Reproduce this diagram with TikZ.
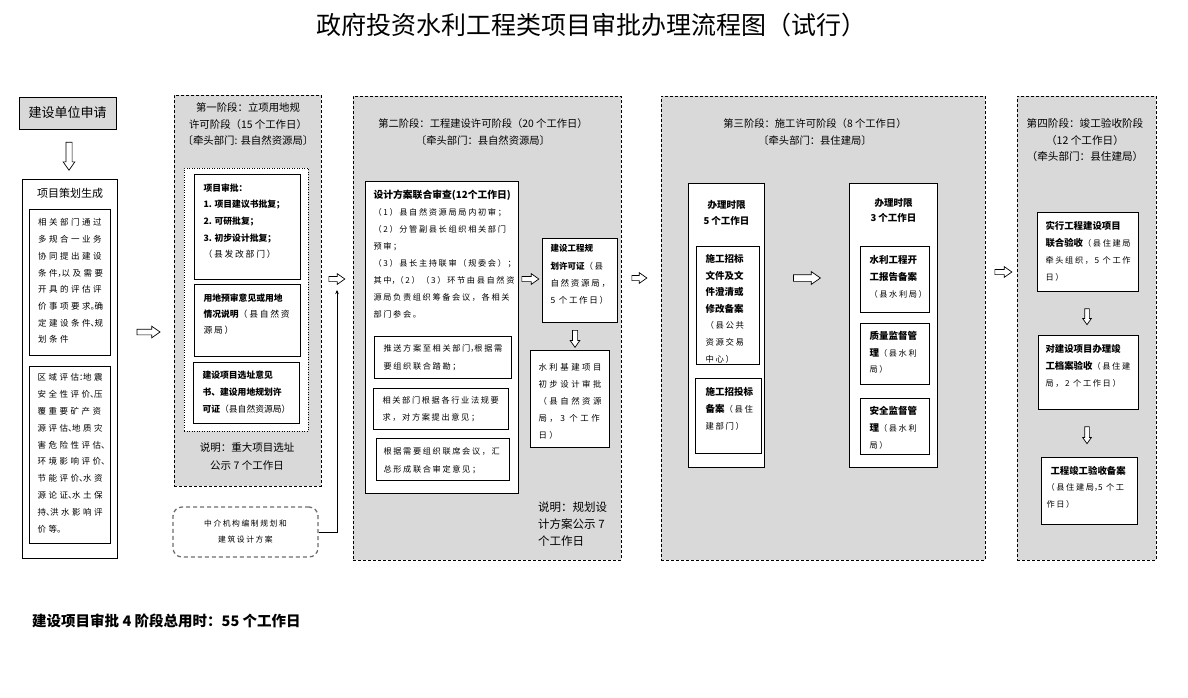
\documentclass[tikz,border=0pt]{standalone}
\usepackage{fontspec}
\setmainfont{Noto Sans CJK SC}
\newfontfamily\spf[LetterSpace=20]{Noto Sans CJK SC}
\newfontfamily\spw[LetterSpace=30]{Noto Sans CJK SC}
\usetikzlibrary{shapes.arrows,arrows.meta}
\definecolor{grayf}{RGB}{217,217,217}
\definecolor{dashg}{RGB}{110,110,110}
\newcommand\fz[2]{\fontsize{#1pt}{#2pt}\selectfont}
\newcommand\cdou{\makebox[4pt][l]{，}}
\newcommand\cdun{\makebox[4pt][l]{、}}
\newcommand\cju{\makebox[4pt][l]{。}}
\newcommand\cmh{\makebox[4pt][l]{：}}
% name, x, y, w, h, style, padleft, padtop, content
\newcommand\BX[9]{%
  \node[#6,anchor=north west,inner sep=0pt] (#1) at (#2,#3)
   {\parbox[c][#5pt][t]{#4pt}{\parindent=0pt\leftskip=#7pt\relax\rightskip=0pt plus 1fil\relax\vspace*{#8pt}#9\par}};}
\begin{document}
\begin{tikzpicture}[x=1pt,y=-1pt,
  sbox/.style={draw=black, fill=white, line width=1pt},
  gbox/.style={draw=black, fill=grayf, line width=1pt},
  stg/.style={draw=black, fill=grayf, line width=0.9pt, dash pattern=on 3pt off 2pt},
  dotb/.style={draw=black, fill=white, line width=0.9pt, dash pattern=on 1pt off 1.5pt},
  zjb/.style={draw=dashg, fill=white, line width=1.3pt, dash pattern=on 4pt off 3pt, rounded corners=9pt},
  barr/.style n args={3}{single arrow, draw=black, fill=white, line width=0.7pt, inner xsep=0pt, inner ysep=#2/2, single arrow head extend=(#3-#2)/2, minimum height=#1, single arrow tip angle=70, anchor=center},
  darr/.style n args={3}{single arrow, draw=black, fill=white, line width=0.7pt, inner ysep=0pt, inner xsep=#2/2, single arrow head extend=(#3-#2)/2, minimum height=#1, single arrow tip angle=70, anchor=center, shape border rotate=270},
  conn/.style={draw=black, line width=0.6pt, -{Stealth[length=4pt,width=3.5pt]}},
  ttl/.style={align=center, inner sep=0pt},
]
\fill[white] (0,0) rectangle (1188,697);
\useasboundingbox (0,0) rectangle (1188,697);

\node[font=\fz{25}{30}] (title) at (591,25) {政府投资水利工程类项目审批办理流程图（试行）};

% ---------- left column ----------
\node[gbox, minimum width=97pt, minimum height=32pt, inner sep=0pt, font=\fz{13}{15}] (req) at (67.5,113) {建设单位申请};
\node[darr={28pt}{5.5pt}{11pt}] (a0) at (69,154) {};
\BX{plan}{22}{179}{95}{379}{sbox}{0}{9.2}{\centering\fz{11}{13}项目策划生成}
\BX{plana}{29}{209}{81}{146}{sbox}{8.5}{9.3}{\spw\fz{8.5}{16.7}相关部门通过\\多规合一业务\\协同提出建设\\条件\cdou 以及需要\\开具的评估评\\价事项要求\cju 确\\定建设条件\cdun 规\\划条件}
\BX{planb}{29}{366}{81}{177}{sbox}{8}{7.3}{\spw\fz{8.5}{16.8}区域评估\cmh 地震\\安全性评价\cdun 压\\覆重要矿产资\\源评估\cdun 地质灾\\害危险性评估\cdun\\环境影响评价\cdun\\节能评价\cdun 水资\\源论证\cdun 水土保\\持\cdun 洪水影响评\\价等\cju}
\node[barr={23pt}{5pt}{11pt}] (a1) at (146.5,332) {};

% ---------- stage 1 ----------
\node[stg, anchor=north west, minimum width=147pt, minimum height=391pt, inner sep=0pt] (st1) at (174,95) {};
\node[ttl, font=\fz{10.4}{16.5}] (t1) at (248,124.5) {第一阶段：立项用地规\\许可阶段（15 个工作日）\\〔牵头部门: 县自然资源局〕};
\node[dotb, anchor=north west, minimum width=124pt, minimum height=263pt, inner sep=0pt] (st1in) at (184,168) {};
\BX{sa}{194}{174}{106}{105}{sbox}{9}{9}{\fz{8.8}{16.7}\bfseries 项目审批：\\1. 项目建议书批复；\\2. 可研批复；\\3. 初步设计批复；\\\mdseries\spf（县发改部门）}
\BX{sb}{194}{284}{106}{72}{sbox}{9}{9.1}{\fz{8.8}{16}\bfseries 用地预审意见或用地\\情况说明\mdseries\spf（县自然资\\源局）}
\BX{sc}{193}{362}{106}{61}{sbox}{9}{8.1}{\fz{8.8}{17}\bfseries 建设项目选址意见\\书、建设用地规划许\\可证\mdseries（县自然资源局）}
\node[ttl, font=\fz{10.5}{18}] (n1) at (247,456) {说明：重大项目选址\\公示 7 个工作日};
\node[zjb, minimum width=145pt, minimum height=50pt, inner sep=0pt, align=center, font=\spf\fz{7.8}{16}] (zj) at (245.5,532) {中介机构编制规划和\\建筑设计方案};
\node[barr={16pt}{4.5pt}{10pt}] (a12) at (335,279) {};
\coordinate (zjtip) at (337,290);
\draw[conn] (zj.east) -| (zjtip);

% ---------- stage 2 ----------
\node[stg, anchor=north west, minimum width=268pt, minimum height=464pt, inner sep=0pt] (st2) at (353,96) {};
\node[ttl, font=\fz{10.3}{17}] (t2) at (483,132.5) {第二阶段：工程建设许可阶段（20 个工作日）\\〔牵头部门：县自然资源局〕};
\BX{sm}{365}{181}{153}{312}{sbox}{8}{8.7}{{\fz{9.8}{18}\bfseries 设计方案联合审查(12个工作日)\par}\spf\fz{8.2}{17}（1）县自然资源局局内初审；\\（2）分管副县长组织相关部门\\预审；\\（3）县长主持联审（规委会）；\\其中\cdou（2）（3）环节由县自然资\\源局负责组织筹备会议，各相关\\部门参会。}
\BX{sm1}{374}{336}{137}{42}{sbox}{9}{8.5}{\spf\fz{8.2}{18}推送方案至相关部门\cdou 根据需\\要组织联合踏勘；}
\BX{sm2}{373}{388}{135}{41}{sbox}{9}{8.4}{\spf\fz{8.2}{17}相关部门根据各行业法规要\\求，对方案提出意见；}
\BX{sm3}{376}{438}{133}{42}{sbox}{7}{9.4}{\spf\fz{8.2}{18}根据需要组织联席会议，汇\\总形成联合审定意见；}
\node[barr={17pt}{4.5pt}{10pt}] (a3) at (528.5,279) {};
\BX{sp}{542}{238}{75}{84}{sbox}{8}{6}{\fz{8.5}{17.3}\bfseries 建设工程规\\划许可证\mdseries\spf（县\\自然资源局，\\5 个工作日）}
\node[darr={17pt}{4.5pt}{9pt}] (a4) at (575,337) {};
\BX{sd}{530}{350}{79}{97}{sbox}{8}{13.4}{\spw\fz{8.4}{16.8}水利基建项目\\初步设计审批\\（县自然资源\\局，3 个工作\\日）}
\node[anchor=north west, inner sep=0pt, align=left, font=\fz{11.5}{17}] (n2) at (538,502) {说明：规划设\\计方案公示 7\\个工作日};
\node[barr={15pt}{4.5pt}{10pt}] (a23) at (637.5,278) {};

% ---------- stage 3 ----------
\node[stg, anchor=north west, minimum width=324pt, minimum height=464pt, inner sep=0pt] (st3) at (661,96) {};
\node[ttl, font=\fz{10.3}{17}] (t3) at (815,132.5) {第三阶段：施工许可阶段（8 个工作日）\\〔牵头部门：县住建局〕};
\BX{sL}{688}{183}{76}{284}{sbox}{0}{16.8}{\centering\fz{9.5}{16.5}\bfseries 办理时限\\5 个工作日}
\BX{sLa}{696}{246}{63}{118}{sbox}{9}{7.8}{\fz{9.5}{16.6}\bfseries 施工招标\\文件及文\\件澄清或\\修改备案\\\mdseries\spf\fz{8.4}{16.6}（县公共\\资源交易\\中心）}
\BX{sLb}{695}{378}{66}{75}{sbox}{10}{8.8}{\fz{9.5}{17}\bfseries 施工招投标\\备案\mdseries\spf\fz{8.4}{17}（县住\\建部门）}
\node[barr={27pt}{6pt}{12pt}] (a5) at (804.5,278) {};
\BX{sR}{849}{183}{88}{284}{sbox}{0}{14.8}{\centering\fz{9.5}{15.5}\bfseries 办理时限\\3 个工作日}
\BX{sRa}{860}{246}{69}{66}{sbox}{9}{8.8}{\fz{9.5}{17}\bfseries 水利工程开\\工报告备案\\\mdseries\spf\fz{8.2}{17}（县水利局）}
\BX{sRb}{860}{323}{69}{61}{sbox}{9}{7.8}{\fz{9.5}{16.5}\bfseries 质量监督管\\理\mdseries\spf\fz{8.2}{16.5}（县水利\\局）}
\BX{sRc}{860}{398}{69}{56}{sbox}{9}{7.8}{\fz{9.5}{17}\bfseries 安全监督管\\理\mdseries\spf\fz{8.2}{17}（县水利\\局）}
\node[barr={17pt}{4.5pt}{10pt}] (a34) at (1001.5,272) {};

% ---------- stage 4 ----------
\node[stg, anchor=north west, minimum width=139pt, minimum height=464pt, inner sep=0pt] (st4) at (1017,96) {};
\node[ttl, font=\fz{10.6}{16.5}] (t4) at (1085,140.5) {第四阶段：竣工验收阶段\\（12 个工作日）\\（牵头部门：县住建局）};
\BX{sfa}{1037}{212}{101}{79}{sbox}{8}{8.8}{\fz{9.4}{17}\bfseries 实行工程建设项目\\联合验收\mdseries\spf\fz{8.2}{17}（县住建局\\牵头组织，5 个工作\\日）}
\node[darr={16pt}{4pt}{8pt}] (a7) at (1087,315) {};
\BX{sfb}{1038}{335}{100}{74}{sbox}{7}{8.8}{\fz{9.4}{17}\bfseries 对建设项目办理竣\\工档案验收\mdseries\spf\fz{8.2}{17}（县住建\\局，2 个工作日）}
\node[darr={17pt}{4pt}{8pt}] (a8) at (1087,433.5) {};
\BX{sfc}{1041}{457}{96}{67}{sbox}{5}{8.8}{\fz{9.4}{16.5}\bfseries\hspace*{4pt}工程竣工验收备案\\\mdseries\spf\fz{8.2}{16.5}（县住建局\cdou 5 个工\\作日）}

% ---------- footer ----------
\node[anchor=west, inner sep=0pt, font=\fz{14.5}{16}\bfseries] (total) at (32,621) {建设项目审批 4 阶段总用时：55 个工作日};
\end{tikzpicture}
\end{document}
